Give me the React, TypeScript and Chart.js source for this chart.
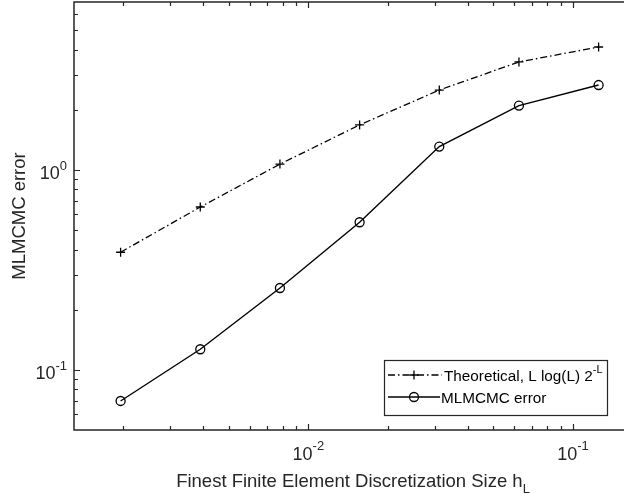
import React, { useEffect, useRef } from "react";
import { Chart, registerables } from "chart.js";

Chart.register(...registerables);

// ---- data ----
const hValues = [0.001953125, 0.00390625, 0.0078125, 0.015625, 0.03125, 0.0625, 0.125];
const theoretical = [0.388, 0.653, 1.07, 1.68, 2.51, 3.47, 4.12];
const mlmcmcError = [0.070, 0.127, 0.257, 0.548, 1.31, 2.1, 2.66];

const xMajorTicks = [0.01, 0.1];
const xTickExponents = ["-2", "-1"];
const yMajorTicks = [0.1, 1];
const yTickExponents = ["-1", "0"];

const seriesLabels = ["Theoretical, L log(L) 2", "MLMCMC error"];
const theoreticalLabelSup = "-L";
const xTitle = "Finest Finite Element Discretization Size h";
const xTitleSub = "L";
const yTitle = "MLMCMC error";

const X_MIN = 0.001302;
const X_MAX = 0.1559;
const Y_MIN = 0.05012;
const Y_MAX = 6.918;

// ---- styles ----
const FONT = '"Liberation Sans", Arial, Helvetica, sans-serif';
const AX = "#262626";
const DASHDOT = [7, 3, 1.5, 3];

type Part = { t: string; sup?: boolean; sub?: boolean };

function drawParts(ctx: CanvasRenderingContext2D, parts: Part[], x: number, y: number, size: number, align: "left" | "center" | "right", supRaise = 0.5) {
  const smallSize = Math.round(size * 0.72);
  ctx.textBaseline = "alphabetic";
  ctx.textAlign = "left";
  const widths = parts.map((p) => {
    ctx.font = `${p.sup || p.sub ? smallSize : size}px ${FONT}`;
    return ctx.measureText(p.t).width;
  });
  const total = widths.reduce((a, b) => a + b, 0);
  let cx = align === "left" ? x : align === "center" ? x - total / 2 : x - total;
  parts.forEach((p, i) => {
    ctx.font = `${p.sup || p.sub ? smallSize : size}px ${FONT}`;
    const dy = p.sup ? -size * supRaise : p.sub ? size * 0.33 : 0;
    ctx.fillText(p.t, cx, y + dy);
    cx += widths[i];
  });
}

function drawCross(ctx: CanvasRenderingContext2D, x: number, y: number, r: number) {
  ctx.beginPath();
  ctx.moveTo(x - r, y);
  ctx.lineTo(x + r, y);
  ctx.moveTo(x, y - r);
  ctx.lineTo(x, y + r);
  ctx.stroke();
}

const decorPlugin = {
  id: "matlabDecor",
  afterDraw(chart: any) {
    const { ctx, chartArea: a, scales } = chart;
    const xs = scales.x;
    const ys = scales.y;
    ctx.save();

    // frame (top, left, bottom)
    ctx.strokeStyle = AX;
    ctx.lineWidth = 1.5;
    ctx.setLineDash([]);
    ctx.beginPath();
    ctx.moveTo(a.right + 2, a.top);
    ctx.lineTo(a.left, a.top);
    ctx.lineTo(a.left, a.bottom);
    ctx.lineTo(a.right + 2, a.bottom);
    ctx.stroke();

    // tick marks
    ctx.lineWidth = 1.2;
    ctx.beginPath();
    const xmin = xs.min, xmax = xs.max;
    for (let e = Math.floor(Math.log10(xmin)); e <= Math.ceil(Math.log10(xmax)); e++) {
      for (let m = 1; m <= 9; m++) {
        const v = m * Math.pow(10, e);
        if (v < xmin || v > xmax) continue;
        const px = Math.round(xs.getPixelForValue(v)) + 0.5;
        const len = m === 1 ? 6 : 4;
        ctx.moveTo(px, a.bottom);
        ctx.lineTo(px, a.bottom - len);
        ctx.moveTo(px, a.top);
        ctx.lineTo(px, a.top + len);
      }
    }
    const ymin = ys.min, ymax = ys.max;
    for (let e = Math.floor(Math.log10(ymin)); e <= Math.ceil(Math.log10(ymax)); e++) {
      for (let m = 1; m <= 9; m++) {
        const v = m * Math.pow(10, e);
        if (v < ymin || v > ymax) continue;
        const py = Math.round(ys.getPixelForValue(v)) + 0.5;
        const len = m === 1 ? 6 : 4;
        ctx.moveTo(a.left, py);
        ctx.lineTo(a.left + len, py);
      }
    }
    ctx.stroke();

    // tick labels
    ctx.fillStyle = AX;
    xMajorTicks.forEach((v, i) => {
      const px = xs.getPixelForValue(v);
      drawParts(ctx, [{ t: "10" }, { t: xTickExponents[i], sup: true }], px, a.bottom + 30, 18, "center", 0.55);
    });
    yMajorTicks.forEach((v, i) => {
      const py = ys.getPixelForValue(v);
      drawParts(ctx, [{ t: "10" }, { t: yTickExponents[i], sup: true }], a.left - 7, py + 9, 18, "right", 0.5);
    });

    // axis titles
    drawParts(ctx, [{ t: xTitle }, { t: xTitleSub, sub: true }], a.left + 279, a.bottom + 57, 18.5, "center");
    ctx.save();
    ctx.translate(25, (a.top + a.bottom) / 2);
    ctx.rotate(-Math.PI / 2);
    ctx.font = `18.5px ${FONT}`;
    ctx.textAlign = "center";
    ctx.textBaseline = "alphabetic";
    ctx.fillText(yTitle, 0, 0);
    ctx.restore();

    // legend
    const lx = 384, ly = 360, lw = 223, lh = 55;
    ctx.fillStyle = "#ffffff";
    ctx.fillRect(lx, ly, lw, lh);
    ctx.strokeStyle = AX;
    ctx.lineWidth = 1.2;
    ctx.strokeRect(lx + 0.5, ly + 0.5, lw, lh);

    const r1 = ly + 15, r2 = ly + 37;
    ctx.strokeStyle = "#000";
    ctx.lineWidth = 1.3;
    ctx.setLineDash(DASHDOT);
    ctx.beginPath();
    ctx.moveTo(lx + 4, r1);
    ctx.lineTo(lx + 58, r1);
    ctx.stroke();
    ctx.setLineDash([]);
    drawCross(ctx, lx + 30, r1, 4.5);
    ctx.beginPath();
    ctx.moveTo(lx + 4, r2);
    ctx.lineTo(lx + 56, r2);
    ctx.stroke();
    ctx.beginPath();
    ctx.arc(lx + 30, r2, 4.5, 0, Math.PI * 2);
    ctx.stroke();

    ctx.fillStyle = "#000";
    drawParts(ctx, [{ t: seriesLabels[0] }, { t: theoreticalLabelSup, sup: true }], lx + 60, r1 + 5.5, 15.3, "left");
    drawParts(ctx, [{ t: seriesLabels[1] }], lx + 57, r2 + 5.5, 15.3, "left");

    ctx.restore();
  },
};

export default function App() {
  const canvasRef = useRef<HTMLCanvasElement | null>(null);

  useEffect(() => {
    const canvas = canvasRef.current;
    if (!canvas) return;
    const chart = new Chart(canvas, {
      type: "line",
      data: {
        datasets: [
          {
            label: seriesLabels[0],
            data: hValues.map((x, i) => ({ x, y: theoretical[i] })),
            borderColor: "#000",
            borderWidth: 1.3,
            borderDash: DASHDOT,
            pointStyle: "cross",
            pointRadius: 4.5,
            pointBorderWidth: 1.3,
            pointBorderColor: "#000",
            pointBackgroundColor: "#000",
            fill: false,
            tension: 0,
          },
          {
            label: seriesLabels[1],
            data: hValues.map((x, i) => ({ x, y: mlmcmcError[i] })),
            borderColor: "#000",
            borderWidth: 1.4,
            pointStyle: "circle",
            pointRadius: 4.5,
            pointBorderWidth: 1.3,
            pointBorderColor: "#000",
            pointBackgroundColor: "rgba(0,0,0,0)",
            fill: false,
            tension: 0,
          },
        ],
      },
      options: {
        animation: false,
        responsive: false,
        layout: { autoPadding: false, padding: { top: 2, right: 0, left: 0, bottom: 0 } },
        plugins: {
          legend: { display: false },
          title: { display: false },
          tooltip: { enabled: false },
        },
        scales: {
          x: {
            type: "logarithmic",
            min: X_MIN,
            max: X_MAX,
            bounds: "data",
            grid: { display: false, drawTicks: false },
            border: { display: false },
            ticks: { display: false },
            afterFit: (s: any) => {
              s.height = 71;
            },
          },
          y: {
            type: "logarithmic",
            min: Y_MIN,
            max: Y_MAX,
            bounds: "data",
            grid: { display: false, drawTicks: false },
            border: { display: false },
            ticks: { display: false },
            afterFit: (s: any) => {
              s.width = 74;
            },
          },
        },
      },
      plugins: [decorPlugin],
    });
    return () => chart.destroy();
  }, []);

  return (
    <div style={{ position: "absolute", left: 0, top: 0, width: 624, height: 501, background: "#fff" }}>
      <canvas ref={canvasRef} width={624} height={501} style={{ display: "block" }} />
    </div>
  );
}
